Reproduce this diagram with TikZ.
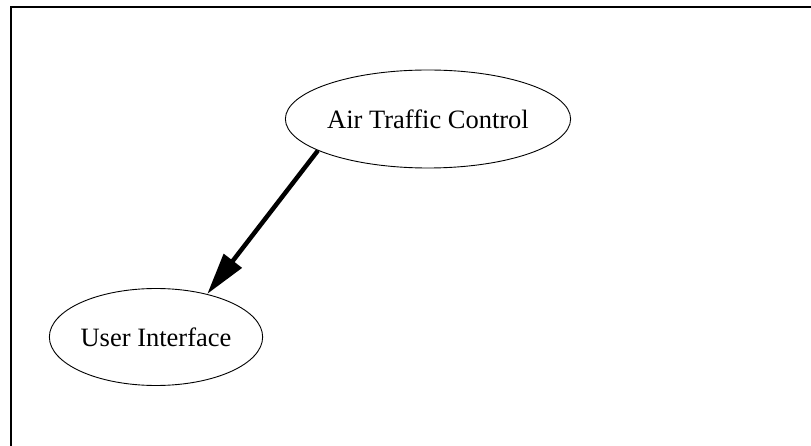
\documentclass[tikz,border=0pt]{standalone}
\usepackage{fontspec}
\setmainfont{Liberation Serif}
\usetikzlibrary{shapes.geometric,arrows.meta}

\tikzset{
  module/.style={draw,ellipse,line width=0.9pt,inner sep=0pt,
    font=\fontsize{26.5}{31}\selectfont},
  uses/.style={line width=4.5pt,-{Triangle[length=42pt,width=22pt]}}
}

\begin{document}
\begin{tikzpicture}[x=1pt,y=-1pt]
\useasboundingbox (0,0) rectangle (811,446);

% Frame (cut at right and bottom)
\draw[line width=2pt] (11,446) -- (11,7) -- (811,7);

% Modules
\node[module,minimum width=282pt,minimum height=98pt] (atc) at (428,119) {Air Traffic Control};
\node[module,minimum width=212pt,minimum height=97pt] (ui) at (156,337) {User Interface};

% Dependency
\draw[uses] (atc.196) -- (ui.40);
\end{tikzpicture}
\end{document}
